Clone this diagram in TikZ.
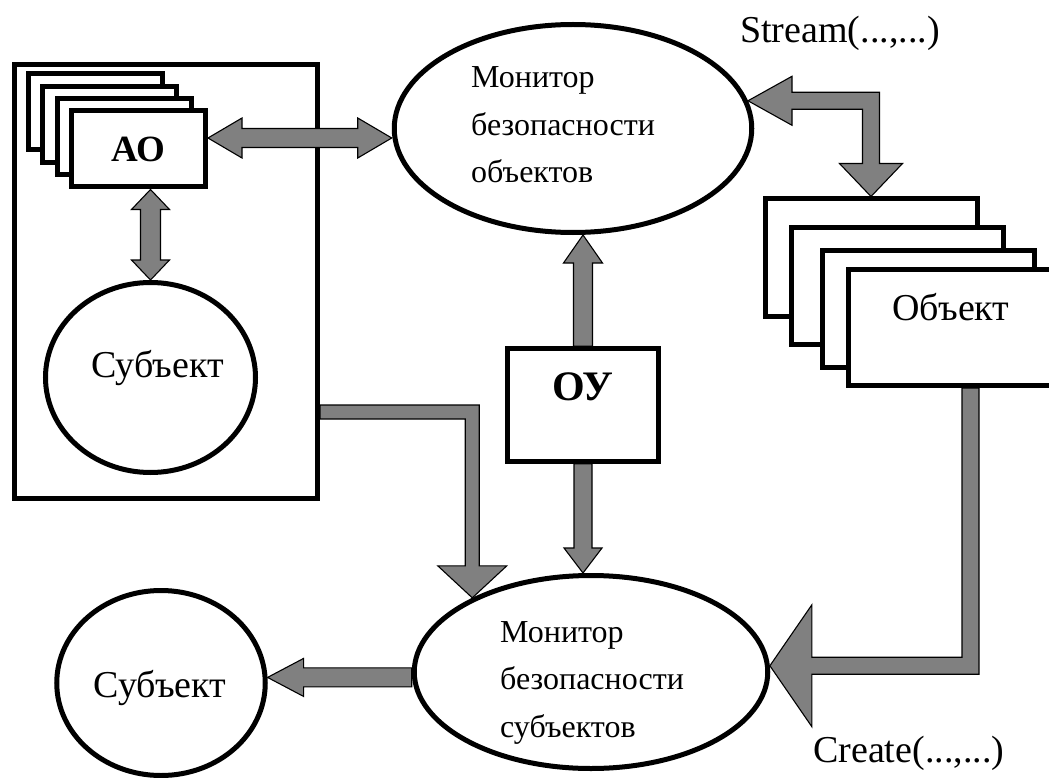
\documentclass[tikz,border=0pt]{standalone}
\usepackage{fontspec}
\setmainfont{Liberation Serif}
\usetikzlibrary{calc,shapes.geometric}

\newcommand{\blkarrow}[5]{%
  \draw[blk] ($(#1)!#3!90:(#2)$) -- ($(#2)!#4!(#1)!#3!-90:(#1)$) -- ($(#2)!#4!(#1)!#5!-90:(#1)$) -- (#2)
    -- ($(#2)!#4!(#1)!#5!90:(#1)$) -- ($(#2)!#4!(#1)!#3!90:(#1)$) -- ($(#1)!#3!-90:(#2)$) -- cycle;}
\newcommand{\blkdarrow}[5]{%
  \draw[blk] (#1) -- ($(#1)!#4!(#2)!#5!90:(#2)$) -- ($(#1)!#4!(#2)!#3!90:(#2)$)
    -- ($(#2)!#4!(#1)!#3!-90:(#1)$) -- ($(#2)!#4!(#1)!#5!-90:(#1)$) -- (#2)
    -- ($(#2)!#4!(#1)!#5!90:(#1)$) -- ($(#2)!#4!(#1)!#3!90:(#1)$)
    -- ($(#1)!#4!(#2)!#3!-90:(#2)$) -- ($(#1)!#4!(#2)!#5!-90:(#2)$) -- cycle;}

\begin{document}
\begin{tikzpicture}[x=1pt,y=-1pt]
    \tikzstyle{box}=[draw,line width=5pt,fill=white,inner sep=0pt]
    \tikzstyle{oval}=[ellipse,draw,line width=5pt,fill=white,inner sep=0pt]
    \tikzstyle{blk}=[draw,fill=gray,line width=1.1pt]
    \tikzstyle{txt}=[inner sep=0pt,anchor=base,font=\fontsize{38}{40}\selectfont]
    \tikzstyle{mon}=[inner sep=0pt,anchor=base west,align=left,font=\fontsize{32}{47.5}\selectfont]

    \useasboundingbox (0,0) rectangle (1049,778);
    \clip (0,0) rectangle (1049,778);

    \node[box,minimum width=303pt,minimum height=434pt] (agent) at (166,281.5) {};
    \foreach \i in {0,1,2}
      \node[box,minimum width=134pt,minimum height=76pt] (aob\i) at ({95.5+14.3*\i},{112+12.3*\i}) {};
    \node[box,minimum width=134pt,minimum height=76pt,font=\fontsize{37}{40}\selectfont\bfseries] (ao) at (138.5,149) {АО};

    \node[oval,minimum width=210pt,minimum height=190pt] (subjt) at (150.5,377.5) {};
      \node[txt] (subjtlabel) at (157.5,377) {Субъект};

    \node[oval,minimum width=357.5pt,minimum height=208pt] (mo) at (573,128.5) {};
      \node[mon] (molabel) at (471,183) {Монитор\\безопасности\\объектов};

    \node[box,minimum width=151pt,minimum height=112.5pt] (oy) at (583,405) {};
      \node[txt,font=\fontsize{42}{44}\selectfont\bfseries] (oylabel) at (583,400) {ОУ};

    \foreach \cx/\cy [count=\i] in {871/257.5,897/286,928/309}
      \node[box,minimum width=212pt,minimum height=117pt] (ob\i) at (\cx,\cy) {};
    \node[box,minimum width=212pt,minimum height=116pt] (obj) at (954.5,327.5) {};
      \node[txt] (objlabel) at (951,320) {Объект};

    \node[oval,minimum width=353.5pt,minimum height=193pt] (ms) at (591,672) {};
      \node[mon] (mslabel) at (500,737) {Монитор\\безопасности\\субъектов};

    \node[oval,minimum width=208.5pt,minimum height=185pt] (subjb) at (161,683) {};
      \node[txt] (subjblabel) at (160,697) {Субъект};

    \node[txt,anchor=base west] (stream) at (740,43) {Stream(...,...)};
    \node[txt,anchor=base west] (create) at (813,762) {Create(...,...)};

    \coordinate (a1) at ($(ao.east)+(0,-11)$);
    \coordinate (a2) at (mo.west |- a1);
    \blkdarrow{a1}{a2}{9.5pt}{34pt}{20pt}

    \coordinate (b1) at (subjt.north |- ao.south);
    \blkdarrow{b1}{subjt.north}{10pt}{20pt}{19pt}

    \coordinate (c2) at (oy.north |- mo.south);
    \blkarrow{oy.north}{c2}{9.5pt}{28pt}{19.5pt}

    \coordinate (d2) at (oy.south |- ms.north);
    \blkarrow{oy.south}{d2}{9pt}{25pt}{19pt}

    \coordinate (f2) at (subjb.3);
    \coordinate (f1) at (ms.west |- f2);
    \blkarrow{f1}{f2}{9.5pt}{36pt}{19pt}

    \coordinate (e0) at ($(agent.south east)+(0,-89)$);
    \coordinate (etip) at (ms.148);
    \coordinate (e1) at (etip |- e0);
    \draw[blk] ($(e0)+(0,-7)$) -- ($(e1)+(7,-7)$) -- ($(etip)+(7,-32)$) -- ($(etip)+(34.5,-32)$) -- (etip)
      -- ($(etip)+(-34.5,-32)$) -- ($(etip)+(-7,-32)$) -- ($(e1)+(-7,7)$) -- ($(e0)+(0,7)$) -- cycle;

    \coordinate (g1) at (mo.9);
    \coordinate (g3) at (ob1.north);
    \coordinate (g2) at (g3 |- g1);
    \draw[blk] (g1) -- ($(g1)+(44,-24.5)$) -- ($(g1)+(44,-8.5)$) -- ($(g2)+(8.5,-8.5)$) -- ($(g3)+(8.5,-33)$)
      -- ($(g3)+(31.5,-33)$) -- (g3) -- ($(g3)+(-31.5,-33)$) -- ($(g3)+(-8.5,-33)$) -- ($(g2)+(-8.5,8.5)$)
      -- ($(g1)+(44,8.5)$) -- ($(g1)+(44,24.5)$) -- cycle;

    \coordinate (h0) at ($(obj.south)+(16,0)$);
    \coordinate (htip) at (ms.2);
    \coordinate (h1) at (h0 |- htip);
    \draw[blk] ($(h0)+(-8.5,0)$) -- ($(h1)+(-8.5,-8.5)$) -- ($(htip)+(42,-8.5)$) -- ($(htip)+(42,-61)$) -- (htip)
      -- ($(htip)+(42,61)$) -- ($(htip)+(42,8.5)$) -- ($(h1)+(8.5,8.5)$) -- ($(h0)+(8.5,0)$) -- cycle;

\end{tikzpicture}
\end{document}
